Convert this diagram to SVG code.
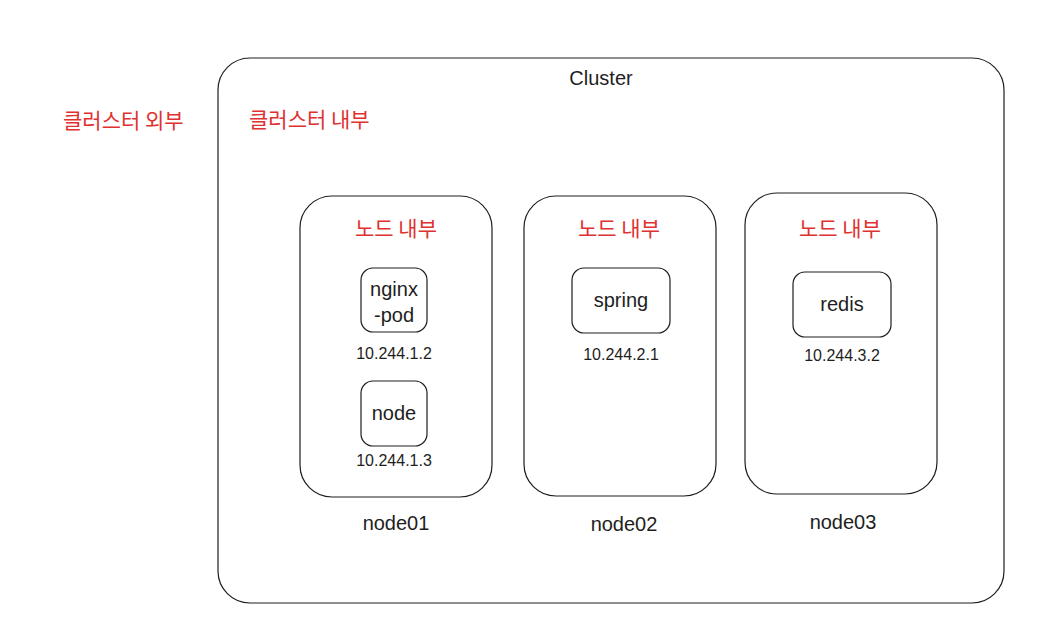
<svg xmlns="http://www.w3.org/2000/svg" width="1045" height="641" viewBox="0 0 1045 641">
<style>
.box{fill:none;stroke:#1e1e1e;stroke-width:1.2}
.t{font-family:"Liberation Sans","Noto Sans CJK KR",sans-serif;fill:#1e1e1e;text-anchor:middle}
.red{font-family:"Noto Sans CJK KR","Liberation Sans",sans-serif;fill:#e03131;font-size:21px}
.lab{font-size:20px}
.ip{font-size:16px}
</style>
<rect width="1045" height="641" fill="#fff"/>
<g id="cluster">
<rect class="box" x="218" y="58" width="786" height="545" rx="32"/>
<text class="t lab" x="601" y="85">Cluster</text>
</g>
<text class="red" x="63" y="128">클러스터 외부</text>
<text class="red" x="249" y="127">클러스터 내부</text>
<g id="node01">
<rect class="box" x="300" y="196" width="192" height="301" rx="32"/>
<text class="red" x="396" y="236" text-anchor="middle">노드 내부</text>
<text class="t lab" x="396" y="530">node01</text>
</g>
<g id="nginx-pod">
<rect class="box" x="361" y="268" width="66" height="64" rx="12"/>
<text class="t lab" x="394" y="296">nginx</text>
<text class="t lab" x="394" y="322">-pod</text>
<text class="t ip" x="394" y="359">10.244.1.2</text>
</g>
<g id="node">
<rect class="box" x="361" y="381" width="66" height="65" rx="12"/>
<text class="t lab" x="394" y="420">node</text>
<text class="t ip" x="394" y="466">10.244.1.3</text>
</g>
<g id="node02">
<rect class="box" x="524" y="196" width="192" height="300" rx="32"/>
<text class="red" x="619" y="236" text-anchor="middle">노드 내부</text>
<text class="t lab" x="624" y="531">node02</text>
</g>
<g id="spring">
<rect class="box" x="572" y="268" width="98" height="65" rx="12"/>
<text class="t lab" x="621" y="307">spring</text>
<text class="t ip" x="621" y="360">10.244.2.1</text>
</g>
<g id="node03">
<rect class="box" x="745" y="193" width="192" height="301" rx="32"/>
<text class="red" x="840" y="236" text-anchor="middle">노드 내부</text>
<text class="t lab" x="843" y="529">node03</text>
</g>
<g id="redis">
<rect class="box" x="793" y="272" width="98" height="65" rx="12"/>
<text class="t lab" x="842" y="311">redis</text>
<text class="t ip" x="842" y="361">10.244.3.2</text>
</g>
<g id="connectors"></g>
</svg>
